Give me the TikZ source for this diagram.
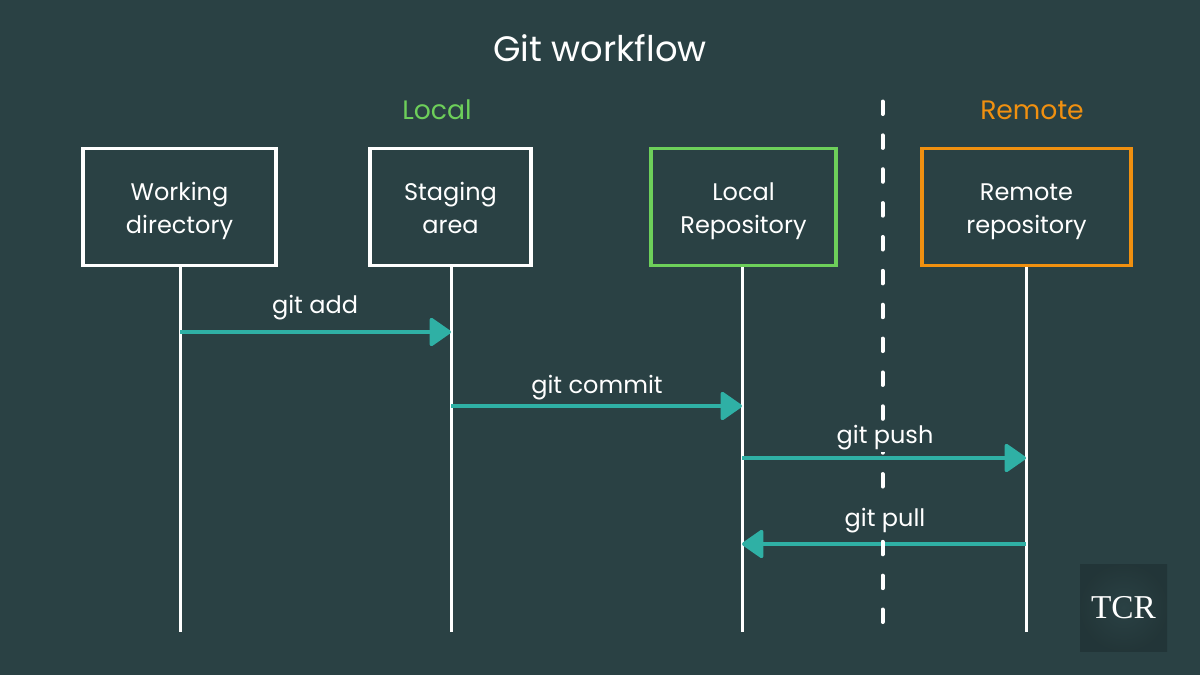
\documentclass[tikz,border=0pt]{standalone}
\usepackage{fontspec}
\setmainfont{Poppins}
\newfontfamily\logofont{Liberation Serif}
\usetikzlibrary{positioning, arrows.meta, calc}
\definecolor{bgcol}{RGB}{42,65,68}
\definecolor{localcol}{RGB}{109,207,90}
\definecolor{remotecol}{RGB}{240,144,16}
\definecolor{arrowcol}{RGB}{47,176,165}
\newcommand{\boxstrut}{\rule[-5.25pt]{0pt}{24.75pt}}

\begin{document}
\begin{tikzpicture}[
			x=0.75pt,
			y=-0.75pt,
			stagebox/.style={
				draw=white,
				line width=2.6pt,
				minimum height=87.5pt,
				align=center,
				text=white,
				font=\fontsize{18}{24.75}\selectfont
			},
			lifeline/.style={
				draw=white,
				line width=2.25pt
			},
			gitarrow/.style={
				draw=arrowcol,
				line width=2.6pt,
				-{Triangle[length=17pt,width=23pt,round]}
			},
			gitlabel/.style={
				fill=bgcol,
				text=white,
				inner xsep=3pt,
				inner ysep=0.75pt,
				text height=15pt,
				text depth=6pt,
				font=\fontsize{18}{20}\selectfont
			},
			zonelabel/.style={
				font=\fontsize{20}{24}\selectfont
			}
			]
			\fill[bgcol] (0,0) rectangle (1200,675);
			\useasboundingbox (0,0) rectangle (1200,675);
			
			% Title
			\node[text=white, font=\fontsize{26.5}{30}\selectfont] (title) at (600,48) {Git workflow};
			\node[zonelabel, text=localcol] (local) at (437,110) {Local};
			\node[zonelabel, text=remotecol] (remote) at (1032,110) {Remote};
			
			% Boxes
			\node[stagebox, minimum width=145pt] (wd) at (179.5,207) {\boxstrut Working\\\boxstrut directory};
			\node[stagebox, minimum width=121pt] (sa) at (450.5,207) {\boxstrut Staging\\\boxstrut area};
			\node[stagebox, draw=localcol, minimum width=139pt] (lr) at (743.5,207) {\boxstrut Local\\\boxstrut Repository};
			\node[stagebox, draw=remotecol, minimum width=157pt] (rr) at (1026.5,207) {\boxstrut Remote\\\boxstrut repository};
			
			% Ends of the lines
			\coordinate (wdend) at (180,632);
			\coordinate (saend) at (451,632);
			\coordinate (lrend) at (742,632);
			\coordinate (rrend) at (1026,632);
			\coordinate (bordertop) at (882.5,101.5);
			\coordinate (borderend) at (882.5,625);
			
			% Points on the lines
			\coordinate (addfrom) at (180,332);
			\coordinate (addto) at (451,332);
			\coordinate (commitfrom) at (451,406);
			\coordinate (committo) at (742,406);
			\coordinate (pushfrom) at (742,458);
			\coordinate (pushto) at (1026,458);
			\coordinate (pullfrom) at (1026,544);
			\coordinate (pullto) at (742,544);
			
			% Lifelines
			\draw[lifeline] (wd.south -| wdend) -- (wdend);
			\draw[lifeline] (sa.south -| saend) -- (saend);
			\draw[lifeline] (lr.south -| lrend) -- (lrend);
			\draw[lifeline] (rr.south -| rrend) -- (rrend);
			
			% Commands
			\draw[gitarrow] (addfrom) -- (addto);
			\draw[gitarrow] (commitfrom) -- (committo);
			\draw[gitarrow] (pullfrom) -- (pullto);
			
			% Border between local and remote
			\draw[white, line width=3pt, line cap=round, dash pattern=on 9.4pt off 16pt] (bordertop) -- (borderend);
			
			\draw[gitarrow] (pushfrom) -- (pushto);
			\node[gitlabel] (add) at (315,307) {git add};
			\node[gitlabel] (commit) at (597,387.5) {git commit};
			\node[gitlabel] (push) at (885,437) {git push};
			\node[gitlabel] (pull) at (885,520) {git pull};
			
			% Logo
			\node[minimum size=65.25pt, inner sep=0pt, inner color=bgcol, outer color=bgcol!82!black, text=white, font=\logofont\fontsize{25}{30}\selectfont, shade] (logo) at (1123.5,607.5) {TCR};
		\end{tikzpicture}
\end{document}
